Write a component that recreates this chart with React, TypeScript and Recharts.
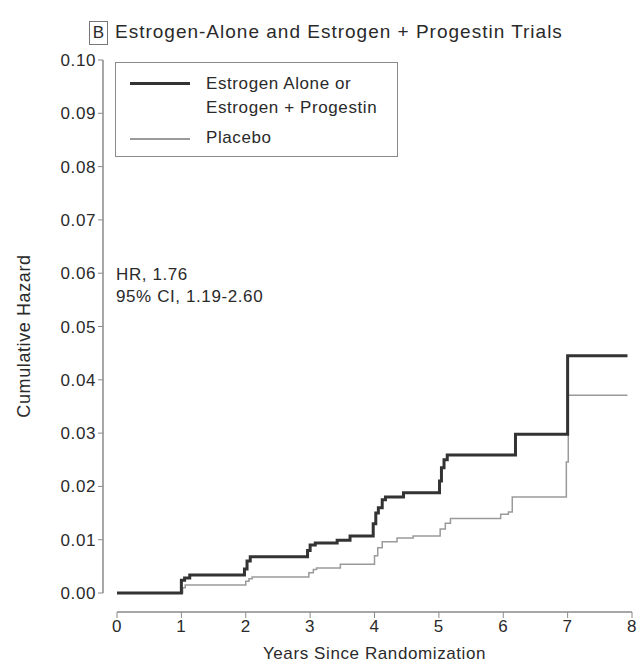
import React from 'react'
import { LineChart, Line, XAxis, YAxis, ReferenceLine, Label } from 'recharts'

// cumulative hazard, years since randomization
const estrogenYears = [0, 1.0, 1.05, 1.13, 1.98, 2.02, 2.07, 2.96, 3.0, 3.08, 3.42, 3.62, 3.98, 4.02, 4.06, 4.12, 4.17, 4.45, 5.01, 5.04, 5.08, 5.13, 6.19, 7.0, 7.93]
const estrogenHazard = [0, 0.0024, 0.0028, 0.0034, 0.0045, 0.006, 0.0068, 0.008, 0.009, 0.0094, 0.0099, 0.0107, 0.013, 0.015, 0.016, 0.0175, 0.018, 0.0188, 0.021, 0.0235, 0.025, 0.0259, 0.0298, 0.0445, 0.0445]

const placeboYears = [0, 1.02, 1.06, 2.0, 2.05, 2.1, 2.98, 3.05, 3.1, 3.47, 4.0, 4.05, 4.12, 4.35, 4.6, 5.02, 5.1, 5.18, 5.96, 6.08, 6.14, 6.98, 7.01, 7.93]
const placeboHazard = [0, 0.001, 0.0015, 0.0022, 0.0027, 0.003, 0.0038, 0.0044, 0.0047, 0.0054, 0.007, 0.0085, 0.0096, 0.0103, 0.0107, 0.012, 0.0131, 0.014, 0.0148, 0.0152, 0.018, 0.0246, 0.0371, 0.0371]

const xTicks = [0, 1, 2, 3, 4, 5, 6, 7, 8]
const yTicks = [0, 0.01, 0.02, 0.03, 0.04, 0.05, 0.06, 0.07, 0.08, 0.09, 0.1]

const estrogen = estrogenYears.map((t, i) => ({ t, v: estrogenHazard[i] }))
const placebo = placeboYears.map((t, i) => ({ t, v: placeboHazard[i] }))

const X_MIN = -0.2175
const Y_MIN = -0.00356
const font = '"Liberation Sans", Arial, sans-serif'
const ink = '#2a2a2a'
const axisGrey = '#8a8a8a'
const txt = { fill: ink, fontSize: 17, fontFamily: font, letterSpacing: 0.6 }

function LegendBox() {
  return (
    <div style={{ position: 'absolute', left: 115, top: 62, border: '1px solid #8a8a8a', width: 281, height: 93, fontSize: 17, letterSpacing: 0.6, color: ink, zIndex: 2 }}>
      <div style={{ position: 'absolute', left: 14, top: 19, width: 60, height: 3, background: '#333' }} />
      <div style={{ position: 'absolute', left: 90, top: 9, lineHeight: '24px', whiteSpace: 'nowrap' }}>
        Estrogen Alone or<br />Estrogen + Progestin
      </div>
      <div style={{ position: 'absolute', left: 14, top: 75, width: 60, height: 1.5, background: '#9a9a9a' }} />
      <div style={{ position: 'absolute', left: 90, top: 63, lineHeight: '24px' }}>Placebo</div>
    </div>
  )
}

export default function App() {
  return (
    <div style={{ position: 'absolute', left: 0, top: 0, width: 640, height: 664, background: '#fff', fontFamily: font }}>
      <div style={{ position: 'absolute', left: 89, top: 21, width: 17, height: 22, border: '1px solid #777', fontSize: 17, color: ink, textAlign: 'center', lineHeight: '22px' }}>B</div>
      <div style={{ position: 'absolute', left: 115, top: 20, fontSize: 19, letterSpacing: 1, color: ink, lineHeight: '24px', whiteSpace: 'nowrap' }}>
        Estrogen-Alone and Estrogen + Progestin Trials
      </div>
      <div style={{ position: 'absolute', left: 116, top: 264, fontSize: 17, letterSpacing: 0.6, color: ink, lineHeight: '22px', zIndex: 2 }}>
        HR, 1.76<br />95% CI, 1.19-2.60
      </div>
      <LegendBox />
      <LineChart width={640} height={664} margin={{ top: 60, right: 8, left: 0, bottom: 0 }}>
        <XAxis
          type="number"
          dataKey="t"
          domain={[X_MIN, 8]}
          allowDataOverflow
          ticks={xTicks}
          axisLine={false}
          tickSize={6}
          tickLine={{ stroke: axisGrey }}
          tick={txt}
          height={52}
        >
          <Label value="Years Since Randomization" position="insideBottom" offset={5} dx={7} style={{ ...txt, fontSize: 17 }} />
        </XAxis>
        <YAxis
          type="number"
          domain={[Y_MIN, 0.1]}
          allowDataOverflow
          ticks={yTicks}
          tickFormatter={(v: number) => v.toFixed(2)}
          axisLine={false}
          tickSize={5}
          tickLine={{ stroke: axisGrey }}
          tick={txt}
          width={103}
        >
          <Label value="Cumulative Hazard" angle={-90} position="insideLeft" offset={24} style={{ ...txt, fontSize: 18, textAnchor: 'middle' }} />
        </YAxis>
        <ReferenceLine segment={[{ x: X_MIN, y: 0 }, { x: X_MIN, y: 0.1 }]} stroke={axisGrey} strokeWidth={1.5} ifOverflow="visible" />
        <ReferenceLine segment={[{ x: 0, y: Y_MIN }, { x: 8, y: Y_MIN }]} stroke={axisGrey} strokeWidth={1.5} ifOverflow="visible" />
        <Line data={placebo} dataKey="v" name="Placebo" type="stepAfter" stroke="#9a9a9a" strokeWidth={1.5} dot={false} isAnimationActive={false} />
        <Line data={estrogen} dataKey="v" name="Estrogen Alone or Estrogen + Progestin" type="stepAfter" stroke="#333" strokeWidth={3} dot={false} isAnimationActive={false} />
      </LineChart>
    </div>
  )
}
